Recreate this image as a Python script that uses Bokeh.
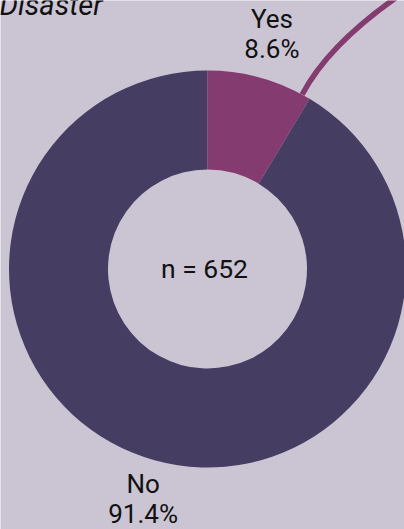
import math
from bokeh.plotting import figure
from bokeh.models import Range1d
from bokeh.core.properties import value
from bokeh.embed import file_html
from bokeh.resources import INLINE

# ---- data ----
categories = ["Yes", "No"]
percents = [8.6, 91.4]
n_total = 652
title_text = "Disaster"

# ---- style ----
BG = "#cbc5d3"
COLORS = ["#843b6f", "#463d63"]
FONT = "Roboto"

W, H = 404, 529
CX, CY = 207, 260.5
R_OUT, R_IN = 198.5, 99.5
R_LABEL = 241.3
LINE_GAP = 15.25
TEXT_SHIFT = 2.5

p = figure(width=W, height=H, output_backend="svg", toolbar_location=None,
           x_range=Range1d(0, W), y_range=Range1d(0, H),
           min_border=0, outline_line_color=None)
p.axis.visible = False
p.grid.visible = False
p.background_fill_color = BG
p.border_fill_color = BG

# wedges, clockwise from top
start = math.pi / 2
starts, ends, mids = [], [], []
for pc in percents:
    span = 2 * math.pi * pc / 100.0
    starts.append(start)
    ends.append(start - span)
    mids.append(start - span / 2)
    start -= span

p.annular_wedge(x=[CX] * len(categories), y=[CY] * len(categories),
                inner_radius=R_IN, outer_radius=R_OUT,
                start_angle=starts, end_angle=ends, direction="clock",
                fill_color=COLORS, line_color=None)

# labels at mid-angles (two rows)
lx = [CX + R_LABEL * math.cos(a) for a in mids]
ly = [CY + R_LABEL * math.sin(a) + TEXT_SHIFT for a in mids]
p.text(x=lx, y=[y + LINE_GAP for y in ly], text=categories,
       text_align="center", text_baseline="middle",
       text_font=value(FONT), text_font_size="26px", text_color="#111111")
p.text(x=lx, y=[y - LINE_GAP for y in ly], text=[f"{pc}%" for pc in percents],
       text_align="center", text_baseline="middle",
       text_font=value(FONT), text_font_size="26px", text_color="#111111")

# center text
p.text(x=[CX - 3], y=[CY + 1], text=[f"n = {n_total}"], text_align="center",
       text_baseline="middle", text_font=value(FONT), text_font_size="26.5px",
       text_color="#111111")

# title (cut at top)
p.text(x=[-1], y=[H - 4.4], text=[title_text], text_align="left",
       text_baseline="middle", text_font=value(FONT),
       text_font_style="italic", text_font_size="29px", text_color="#111111")

# leader line from the Yes slice
a0 = starts[0] - 0.92 * (starts[0] - ends[0])
x0 = CX + R_OUT * math.cos(a0)
y0 = CY + R_OUT * math.sin(a0)
p.quadratic(x0=[x0], y0=[y0], x1=[x0 + 118], y1=[y0 + 113],
            cx=[x0 + 30], cy=[y0 + 57], line_color=COLORS[0], line_width=5.5)

open("out.html", "w").write(file_html(p, INLINE))
